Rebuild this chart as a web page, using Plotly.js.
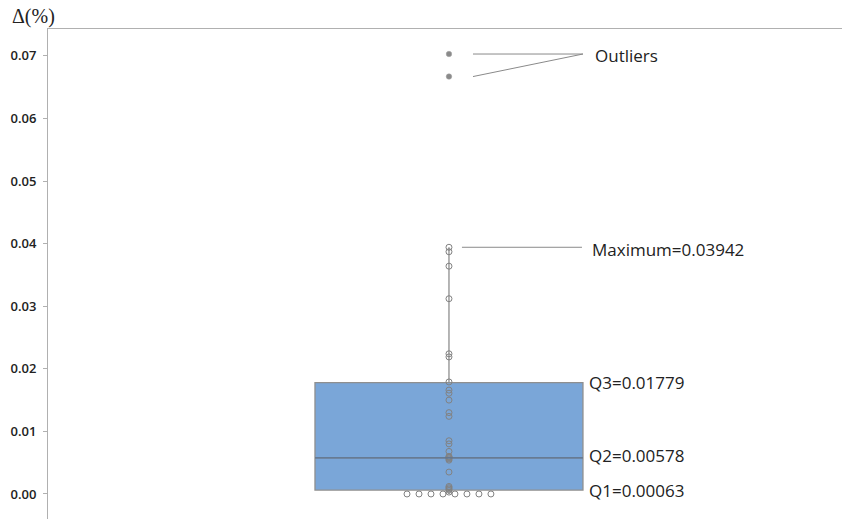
<!DOCTYPE html>
<html>
<head>
<meta charset="utf-8">
<script src="https://cdn.plot.ly/plotly-3.0.1.min.js"></script>
<style>html,body{margin:0;padding:0;background:#fff;}#chart{width:842px;height:519px;}</style>
</head>
<body>
<div id="chart"></div>
<script>
// ---- data ----
const outlierValues = [0.0703, 0.0667];
const pointValues = [
  0.03942, 0.0387, 0.0364, 0.0312, 0.0224, 0.0219,
  0.0179, 0.0166, 0.0161, 0.0150, 0.0130, 0.0124,
  0.0085, 0.0080, 0.0068,
  0.0060, 0.0059, 0.00578, 0.0056, 0.0054,
  0.0035,
  0.0012, 0.0010, 0.0008, 0.0006, 0.0003,
  0, 0, 0, 0, 0, 0, 0, 0
];
const q1 = 0.00063;
const median = 0.00578;
const q3 = 0.01779;
const upperFence = 0.03942;
const lowerFence = 0;
const yTickVals = [0, 0.01, 0.02, 0.03, 0.04, 0.05, 0.06, 0.07];
const labelTexts = {
  outliers: 'Outliers',
  max: 'Maximum=0.03942',
  q3: 'Q3=0.01779',
  q2: 'Q2=0.00578',
  q1: 'Q1=0.00063'
};

// ---- layout helpers ----
const boxHalf = 0.3375;
const spread = 0.0302;
// spread identical values horizontally (simple beeswarm)
function swarm(vals) {
  const counts = {}, seen = {};
  vals.forEach(v => { counts[v] = (counts[v] || 0) + 1; });
  return vals.map(v => {
    const n = counts[v];
    const i = seen[v] || 0; seen[v] = i + 1;
    return n > 1 ? (i - (n - 1) / 2) * spread : 0;
  });
}

const gray = '#828282';
const textFont = {family: 'Open Sans, Noto Sans, sans-serif', size: 17, color: '#222'};

const traces = [
  {
    type: 'box', x: [0], q1: [q1], median: [median], q3: [q3],
    lowerfence: [lowerFence], upperfence: [upperFence],
    width: boxHalf * 2, whiskerwidth: 0, boxpoints: false,
    fillcolor: 'rgb(122,166,216)', line: {color: '#8f8f8f', width: 1.3},
    hoverinfo: 'skip', showlegend: false
  },
  {
    type: 'scatter', mode: 'markers', x: swarm(pointValues), y: pointValues,
    marker: {symbol: 'circle-open', size: 6, color: gray, line: {width: 1, color: gray}},
    hoverinfo: 'y', showlegend: false
  },
  {
    type: 'scatter', mode: 'markers', x: outlierValues.map(() => 0), y: outlierValues,
    marker: {symbol: 'circle', size: 5.5, color: '#8a8a8a', line: {width: 0.5, color: '#a0a0a0'}},
    hoverinfo: 'y', showlegend: false
  }
];

const lineStyle = {color: '#8a8a8a', width: 1};
const shapes = [
  {type: 'line', xref: 'x', yref: 'y', x0: -boxHalf, x1: boxHalf, y0: median, y1: median,
   line: {color: '#5b7391', width: 1.3}},
  {type: 'line', xref: 'x', yref: 'y', x0: 0.0327, x1: 0.335, y0: upperFence, y1: upperFence, line: lineStyle}
].concat(outlierValues.map(v => ({
  type: 'line', xref: 'x', yref: 'y', x0: 0.0605, x1: 0.3375, y0: v, y1: outlierValues[0], line: lineStyle
})));

const annotations = [
  {xref: 'x', yref: 'y', x: 0.3628, y: outlierValues[0], text: labelTexts.outliers, showarrow: false, xanchor: 'left', yanchor: 'middle', font: textFont, yshift: -1},
  {xref: 'x', yref: 'y', x: 0.3552, y: upperFence, text: labelTexts.max, showarrow: false, xanchor: 'left', yanchor: 'middle', font: textFont, yshift: -2},
  {xref: 'x', yref: 'y', x: 0.3476, y: q3, text: labelTexts.q3, showarrow: false, xanchor: 'left', yanchor: 'middle', font: textFont},
  {xref: 'x', yref: 'y', x: 0.3476, y: median, text: labelTexts.q2, showarrow: false, xanchor: 'left', yanchor: 'middle', font: textFont, yshift: 2},
  {xref: 'x', yref: 'y', x: 0.3476, y: q1, text: labelTexts.q1, showarrow: false, xanchor: 'left', yanchor: 'middle', font: textFont},
  {xref: 'paper', yref: 'paper', x: -0.048, y: 1.0265, text: 'Δ(%)', showarrow: false, xanchor: 'left', yanchor: 'middle',
   font: {family: 'Liberation Serif, DejaVu Serif, serif', size: 20, color: '#222'}}
];

const layout = {
  width: 842, height: 519,
  margin: {l: 48, r: 0, t: 29, b: 0, pad: 0},
  paper_bgcolor: '#fff', plot_bgcolor: '#fff',
  showlegend: false,
  xaxis: {range: [-1.01, 0.99], side: 'top', showline: true, linecolor: '#b0b0b0', linewidth: 1,
          showticklabels: false, ticks: '', showgrid: false, zeroline: false, fixedrange: true},
  yaxis: {range: [-0.004, 0.0743], tickvals: yTickVals, tickformat: '.2f',
          ticks: 'outside', ticklen: 4, tickcolor: '#b0b0b0', showline: true, linecolor: '#b0b0b0', linewidth: 1,
          showgrid: false, zeroline: false, ticklabelstandoff: 4,
          tickfont: {family: 'Open Sans, Noto Sans, sans-serif', size: 13, color: '#222', weight: 600}},
  shapes: shapes,
  annotations: annotations
};

Plotly.newPlot('chart', traces, layout, {displayModeBar: false, staticPlot: true});
</script>
</body>
</html>
